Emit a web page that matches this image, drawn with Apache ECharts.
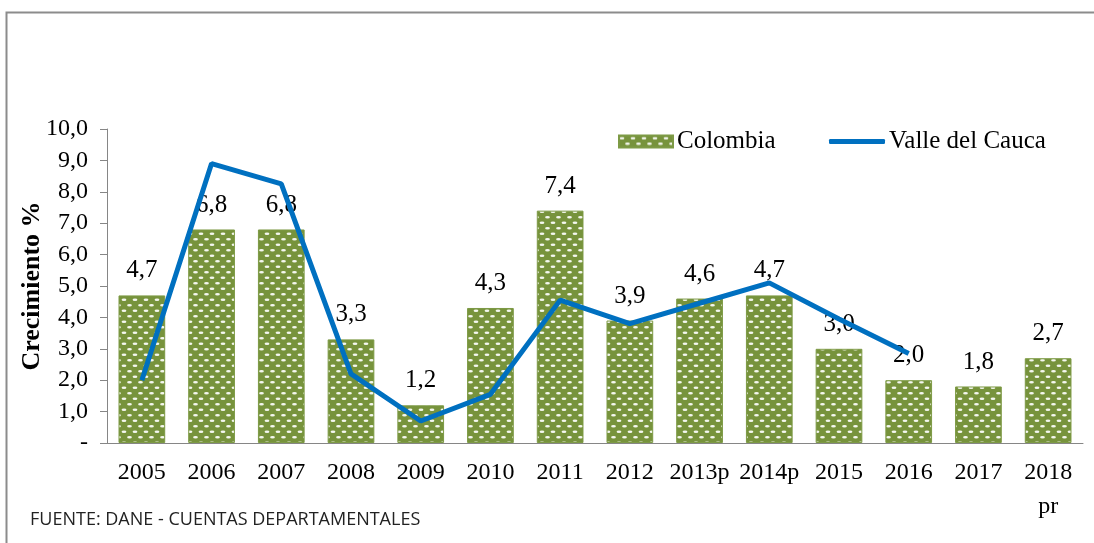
<!DOCTYPE html>
<html>
<head>
<meta charset="utf-8">
<script src="https://cdn.jsdelivr.net/npm/echarts@6/dist/echarts.min.js"></script>
<style>
  html, body { margin: 0; padding: 0; background: #fff; }
  #chart { width: 1094px; height: 543px; }
</style>
</head>
<body>
<div id="chart"></div>
<script>
// datos
const years = ['2005', '2006', '2007', '2008', '2009', '2010', '2011', '2012', '2013p', '2014p', '2015', '2016', '2017', '2018\npr']
const colombia = [4.7, 6.8, 6.8, 3.3, 1.2, 4.3, 7.4, 3.9, 4.6, 4.7, 3.0, 2.0, 1.8, 2.7]
const valle = [2.0, 8.9, 8.25, 2.2, 0.7, 1.55, 4.55, 3.8, 4.45, 5.1, 3.95, 2.85, null, null]
const yTicks = { min: 0, max: 10, interval: 1 }

const serif = 'Liberation Serif'
const fmt = v => (v === 0 ? '-' : v.toFixed(1).replace('.', ','))

// trama verde con guiones blancos
const makePattern = () => {
    const c = document.createElement('canvas')
    c.width = 11
    c.height = 11
    const ctx = c.getContext('2d')
    ctx.fillStyle = '#77933c'
    ctx.fillRect(0, 0, 11, 11)
    ctx.fillStyle = 'rgba(255,255,255,0.92)'
    ctx.beginPath()
    ctx.ellipse(3, 2.75, 2.4, 1.2, 0, 0, Math.PI * 2)
    ctx.fill()
    ctx.beginPath()
    ctx.ellipse(8.5, 8.25, 2.4, 1.2, 0, 0, Math.PI * 2)
    ctx.fill()
    return c
}

const chart = echarts.init(document.getElementById('chart'))
chart.setOption({
    animation: false,
    textStyle: { fontFamily: serif },
    grid: { left: 107, right: 11, top: 129, bottom: 100 },
    graphic: [
        {
            type: 'rect',
            left: 4,
            top: 10,
            shape: { width: 1200, height: 700 },
            style: { fill: 'none', stroke: '#8c8c8c', lineWidth: 2 },
            silent: true
        },
        {
            type: 'text',
            left: 30,
            top: 511,
            style: {
                text: 'FUENTE: DANE - CUENTAS DEPARTAMENTALES',
                fontFamily: 'Open Sans',
                fontSize: 18,
                fill: '#222'
            }
        }
    ],
    legend: [
        {
            left: 618,
            top: 129,
            padding: 0,
            itemWidth: 54,
            itemHeight: 12,
            itemGap: 4,
            textStyle: { fontFamily: serif, fontSize: 25, color: '#000', padding: [0, 0, 0, -1] },
            data: [{ name: 'Colombia', icon: 'rect' }]
        },
        {
            left: 829,
            top: 129,
            padding: 0,
            itemWidth: 56,
            itemHeight: 5,
            textStyle: { fontFamily: serif, fontSize: 25, color: '#000', padding: [0, 0, 0, -1] },
            data: [{ name: 'Valle del Cauca', icon: 'roundRect', itemStyle: { color: '#0070c0' } }]
        }
    ],
    xAxis: {
        type: 'category',
        data: years,
        axisLine: { lineStyle: { color: '#868686', width: 1 } },
        axisTick: { length: 8, lineStyle: { color: '#868686' } },
        axisLabel: {
            interval: 0,
            margin: 13,
            color: '#000',
            fontFamily: serif,
            fontSize: 24,
            lineHeight: 34
        }
    },
    yAxis: {
        type: 'value',
        min: yTicks.min,
        max: yTicks.max,
        interval: yTicks.interval,
        name: 'Crecimiento %',
        nameLocation: 'middle',
        nameRotate: 90,
        nameGap: 62,
        nameMoveOverlap: false,
        nameTextStyle: { fontFamily: serif, fontSize: 26, fontWeight: 'bold', color: '#000' },
        axisLine: { show: true, lineStyle: { color: '#868686' } },
        axisTick: { show: true, length: 7, lineStyle: { color: '#868686' } },
        splitLine: { show: false },
        axisLabel: {
            margin: 19,
            color: '#000',
            fontFamily: serif,
            fontSize: 24,
            formatter: fmt
        }
    },
    series: [
        {
            name: 'Colombia',
            type: 'bar',
            data: colombia,
            barWidth: '67%',
            itemStyle: {
                color: { image: makePattern(), repeat: 'repeat' },
                borderColor: '#7d9a45',
                borderWidth: 1
            },
            label: {
                show: true,
                position: 'top',
                distance: 12,
                color: '#000',
                fontFamily: serif,
                fontSize: 25,
                formatter: p => fmt(p.value)
            },
            z: 2
        },
        {
            name: 'Valle del Cauca',
            type: 'line',
            data: valle,
            symbol: 'none',
            color: '#0070c0',
            lineStyle: { color: '#0070c0', width: 5 },
            z: 3
        }
    ]
})
</script>
</body>
</html>
